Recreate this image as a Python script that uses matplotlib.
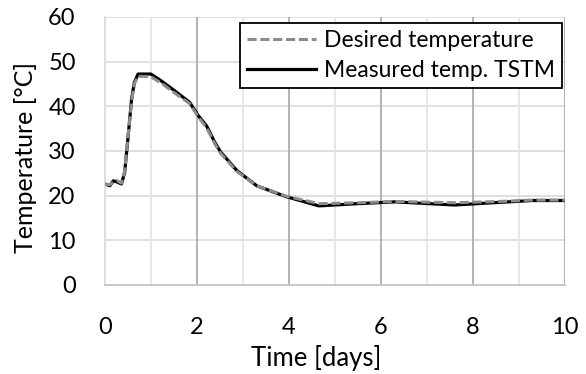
import matplotlib.pyplot as plt
import numpy as np

# données
t_meas = [0.0, 0.11, 0.18, 0.25, 0.36, 0.43, 0.5, 0.58, 0.64, 0.72, 1.0, 1.22, 1.51, 1.84, 2.03,
          2.21, 2.39, 2.52, 2.87, 3.3, 3.93, 4.65, 5.5, 6.3, 7.6, 8.6, 9.3, 10.0]
temp_meas = [22.6, 22.2, 23.3, 23.1, 22.6, 25.2, 32.7, 41.6, 45.3, 47.2, 47.2, 45.7, 43.5, 40.9, 37.9,
             35.6, 31.9, 29.7, 25.6, 22.2, 19.8, 17.7, 18.2, 18.6, 17.9, 18.5, 18.9, 18.9]

t_des = [0.0, 0.11, 0.18, 0.25, 0.36, 0.43, 0.5, 0.58, 0.64, 0.72, 1.0, 1.22, 1.51, 1.84, 2.03,
         2.21, 2.39, 2.52, 2.87, 3.3, 3.93, 4.65, 5.5, 6.3, 7.6, 8.6, 9.3, 10.0]
temp_des = [22.6, 22.4, 23.0, 23.4, 22.8, 25.5, 33.0, 41.0, 45.0, 46.7, 46.6, 45.2, 43.0, 40.6, 37.6,
            35.2, 31.6, 29.4, 25.4, 22.2, 19.9, 18.2, 18.4, 18.7, 18.4, 18.7, 19.0, 19.0]

x_ticks = [0, 2, 4, 6, 8, 10]
y_ticks = [0, 10, 20, 30, 40, 50, 60]

plt.rcParams['font.family'] = ['Lato', 'DejaVu Sans']

fig = plt.figure(figsize=(5.86, 3.74), dpi=100)
ax = fig.add_axes([0.179, 0.238, 0.785, 0.717])

# grille façon Excel
for y in y_ticks[1:]:
    ax.axhline(y, color='#d9d9d9', lw=1.2, zorder=0)
for x in np.arange(1, 10, 2):
    ax.axvline(x, color='#e3e3e3', lw=1.2, zorder=0)
for x in x_ticks[1:]:
    ax.axvline(x, color='#a6a6a6', lw=1.2, zorder=0)

ax.plot(t_des, temp_des, color='#8c8c8c', lw=2.2, ls=(0, (3, 1.2)), label='Desired temperature', zorder=3)
ax.plot(t_meas, temp_meas, color='black', lw=2.3, label='Measured temp. TSTM', zorder=2)

ax.set_xlim(0, 10)
ax.set_ylim(0, 60)
ax.set_xticks(x_ticks)
ax.set_yticks(y_ticks)
ax.tick_params(length=0, labelsize=17)
ax.tick_params(axis='x', pad=23)
ax.tick_params(axis='y', pad=21)

for s in ['top', 'right']:
    ax.spines[s].set_visible(False)
ax.spines['left'].set_color('#d9d9d9')
ax.spines['bottom'].set_color('#bfbfbf')
ax.spines['left'].set_linewidth(1.2)
ax.spines['bottom'].set_linewidth(1.2)

ax.set_xlabel('Time [days]', fontsize=18.5)
ax.set_ylabel('Temperature [°C]', fontsize=18)
ax.xaxis.set_label_coords(0.46, -0.225)
ax.yaxis.set_label_coords(-0.148, 0.476)

leg = ax.legend(loc='upper right', bbox_to_anchor=(0.9935, 0.978), fontsize=16.5, frameon=True,
                fancybox=False, edgecolor='black', framealpha=1, handlelength=3.0,
                handletextpad=0.35, borderpad=0.3, labelspacing=0.4, borderaxespad=0)
leg.get_frame().set_linewidth(1.3)

fig.savefig('out.png', dpi=100)
